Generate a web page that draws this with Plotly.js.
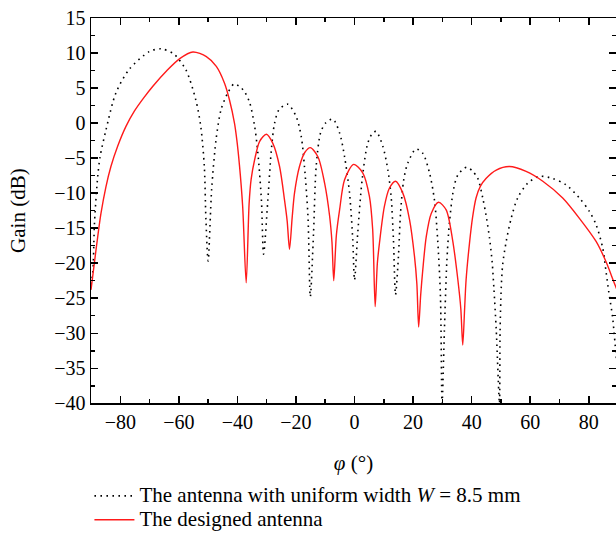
<!DOCTYPE html>
<html>
<head>
<meta charset="utf-8">
<script src="https://cdn.plot.ly/plotly-3.0.1.min.js"></script>
<style>html,body{margin:0;padding:0;background:#fff;}#chart{width:616px;height:537px;}</style>
</head>
<body>
<div id="chart"></div>
<script>
// Uniform width antenna (dotted)
const uniformPhi = [-90,-89.4,-88.8,-87.7,-86.9,-84.9,-81.5,-76.9,-70.1,-66.1,-61.8,-57.6,-54.2,-52.5,-51.3,-50.75,-50,-48.8,-47.3,-45.6,-43.3,-41.1,-39.5,-37.6,-35.8,-34.1,-33,-31.8,-31.06,-29.6,-28.4,-27.3,-25.8,-22.8,-19.9,-18.2,-17.1,-15.9,-15.1,-14,-13.1,-11.6,-9.9,-7.4,-5.1,-3.4,-1.7,-0.6,0,1.1,2.6,4.5,6.2,7.4,9.66,11.4,12.5,13.3,14,15,15.7,16.8,18.2,21,23.3,25.6,27.3,28.4,29.35,29.9,30.7,31.5,32.4,33.8,35.3,38.3,40.4,42.1,43.8,44.9,46.1,47.0,47.6,48.4,49.5,49.7,50.1,50.6,51.8,53.5,55.7,59.1,63.1,67.7,72.2,76.8,80.2,82.5,84.8,85.9,86.8,88.1,89.3,90];
const uniformGain = [-23,-21.4,-14.2,-7.6,-4.8,-1,4.3,7.7,10.2,10.6,9.9,7.6,3.3,-0.5,-6.2,-13.8,-19.7,-9.5,-2.4,1.9,4.3,5.6,5.3,4.5,2.9,-0.5,-4.3,-11,-18.7,-11,-3.8,0,1.9,2.7,0.9,-1.9,-6.2,-13.3,-24.8,-15.7,-6.2,-1.4,0,0.57,-1.4,-4.8,-10,-16.7,-22.4,-15.7,-8.1,-2.9,-1.4,-1.2,-3.3,-6.7,-10.5,-16.7,-24.5,-19,-12.9,-8.1,-5.7,-3.7,-4.3,-7.1,-11,-16.7,-24.8,-40,-29.5,-20,-14.3,-9.5,-7.4,-6.3,-6.9,-7.9,-10.7,-13.1,-16.4,-19.8,-23.6,-29.5,-40,-30,-23.6,-20.2,-16.9,-13.6,-10.7,-8.6,-7.6,-7.9,-8.8,-10.7,-12.6,-14.5,-17.9,-21.2,-24,-27.6,-33,-36];

// Designed antenna (red solid)
const designedPhi = [-90,-88.8,-87.7,-86.6,-84.9,-83.2,-80.9,-78.1,-75.2,-72,-68.8,-64.3,-59.7,-55.2,-50.6,-47.2,-44.4,-42.7,-41,-40.2,-39.3,-38.2,-37,-36,-35.3,-34.1,-32.4,-30.1,-27.9,-25.6,-23.9,-23,-22.2,-21.3,-20.5,-18.8,-17,-15.1,-12.5,-10.2,-8.5,-7.7,-7.1,-6.2,-5.1,-3.4,-0.3,2.8,5.1,6.2,7.05,7.8,8.55,10.2,11.9,14.0,16.5,18.8,20.5,21.3,21.9,22.6,23.3,24.5,26.2,28.7,31.3,33.5,35.3,36.3,36.96,37.6,38.1,39.25,40.3,41.5,43,44.9,48.4,52.9,58.6,64.3,71.1,76.8,82.5,85.9,88.5,90];
const designedGain = [-23.8,-19.8,-16.2,-12.9,-9.1,-6.2,-3.3,-0.5,1.7,3.6,5.3,7.4,9.2,10.15,9.5,8.1,5.7,3.3,0,-2.4,-6,-11.9,-22.8,-11.5,-8,-5.2,-2.6,-1.6,-2.9,-6.2,-11,-14,-18,-13.5,-10,-6.2,-4.2,-3.5,-4.8,-8.6,-13.3,-17,-22.5,-16,-12.4,-8.1,-5.9,-7.1,-10.5,-15.2,-26.2,-20,-17,-11.9,-9.3,-8.3,-10,-13.8,-19.1,-23,-29.1,-24.5,-21,-16.2,-12.9,-11.3,-12.4,-16.7,-22.4,-26.5,-31.7,-26.5,-22.4,-17.2,-13.5,-10.7,-9,-7.9,-6.7,-6.2,-6.9,-8.3,-10.7,-13.6,-16.9,-19.8,-22.6,-24.2];

const seriesNames = ['The antenna with uniform width <i>W</i> = 8.5 mm', 'The designed antenna'];
const xTitle = '<i>φ</i> (°)';
const yTitle = 'Gain (dB)';

const serif = 'Liberation Serif, Times New Roman, serif';
const big = s => '<span style="font-size:21px">' + s + '</span>';

const traces = [
  {x: uniformPhi, y: uniformGain, mode: 'lines', name: big(seriesNames[0]),
   line: {color: '#000', width: 1.6, dash: '1.6px,4.4px', shape: 'spline', smoothing: 0.8}},
  {x: designedPhi, y: designedGain, mode: 'lines', name: big(seriesNames[1]),
   line: {color: '#ff1a1a', width: 1.4, shape: 'spline', smoothing: 0.8}}
];

const axisCommon = {
  showline: true, linecolor: '#000', linewidth: 1.5, mirror: 'ticks',
  ticks: 'inside', ticklen: 7, tickwidth: 1.5, tickcolor: '#000',
  showgrid: false, zeroline: false,
  tickfont: {family: serif, size: 20, color: '#000'}
};

const layout = {
  width: 616, height: 537,
  margin: {l: 91, r: 0, t: 18, b: 0},
  paper_bgcolor: '#fff', plot_bgcolor: '#fff',
  showlegend: true,
  legend: {x: -0.003, xanchor: 'left', y: 0, yanchor: 'bottom', orientation: 'v',
           font: {family: serif, size: 16, color: '#000'}, tracegroupgap: 0,
           itemwidth: 40, bgcolor: 'rgba(0,0,0,0)'},
  xaxis: Object.assign({}, axisCommon, {
    range: [-90, 89.3], tickmode: 'linear', tick0: -80, dtick: 20,
    minor: {ticks: 'inside', ticklen: 4, tickwidth: 1.5, tickcolor: '#000', dtick: 10, tick0: -90},
    title: {text: xTitle, font: {family: serif, size: 21, color: '#000'}, standoff: 23}
  }),
  yaxis: Object.assign({}, axisCommon, {
    domain: [0.2576, 1],
    range: [-40, 15], tickmode: 'linear', tick0: -40, dtick: 5,
    minor: {ticks: 'inside', ticklen: 4, tickwidth: 1.5, tickcolor: '#000', dtick: 2.5, tick0: -40},
    title: {text: yTitle, font: {family: serif, size: 21, color: '#000'}, standoff: 23}
  })
};

Plotly.newPlot('chart', traces, layout, {displayModeBar: false, staticPlot: true});
</script>
</body>
</html>
